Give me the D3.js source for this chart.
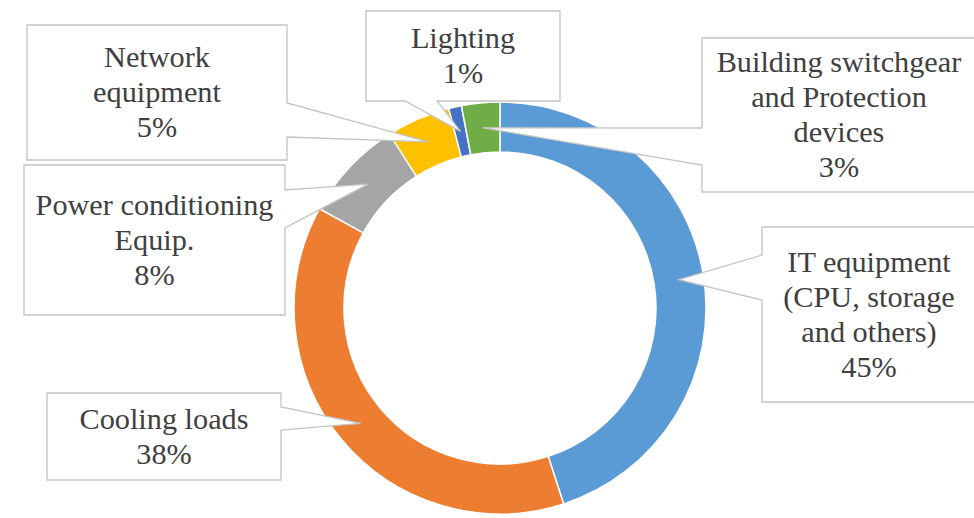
<!DOCTYPE html>
<html>
<head>
<meta charset="utf-8">
<script src="https://cdn.jsdelivr.net/npm/d3@7"></script>
<style>
  html, body { margin: 0; padding: 0; background: #ffffff; }
  svg { display: block; }
</style>
</head>
<body>
<svg id="chart" width="974" height="518"></svg>
<script>
// ---- data ----
const categories = [
  "IT equipment (CPU, storage and others)",
  "Cooling loads",
  "Power conditioning Equip.",
  "Network equipment",
  "Lighting",
  "Building switchgear and Protection devices"
];
const values = [45, 38, 8, 5, 1, 3];
const labelLines = [
  ["IT equipment", "(CPU, storage", "and others)"],
  ["Cooling loads"],
  ["Power conditioning", "Equip."],
  ["Network", "equipment"],
  ["Lighting"],
  ["Building switchgear", "and Protection", "devices"]
];

// ---- styles / layout ----
const colors = ["#5B9BD5", "#ED7D31", "#A5A5A5", "#FFC000", "#4472C4", "#70AD47"];
const cx = 500, cy = 308, R = 206, r = 156;
const lineH = 35;
const refLine = "Power conditioning", refWidth = 238;

// callout boxes: x0,y0,x1,y1, side where the pointer leaves, and pointer base positions
const boxes = [
  { x0: 762, y0: 227, x1: 976, y1: 402, side: "left",   b1: 255, b2: 300 },
  { x0: 47,  y0: 393, x1: 281, y1: 480, side: "right",  b1: 407, b2: 430 },
  { x0: 24,  y0: 165, x1: 285, y1: 315, side: "right",  b1: 190, b2: 228 },
  { x0: 27,  y0: 25,  x1: 287, y1: 160, side: "right",  b1: 103, b2: 137 },
  { x0: 366, y0: 11,  x1: 560, y1: 101, side: "bottom", b1: 405, b2: 437 },
  { x0: 702, y0: 38,  x1: 976, y1: 192, side: "left",   b1: 128, b2: 165 }
];

const svg = d3.select("#chart");

// pick the first installed serif font
function measure(family) {
  const t = svg.append("text").attr("font-size", 40).style("font-family", family)
    .text("Power conditioning Wmilj 0123");
  const w = t.node().getComputedTextLength();
  t.remove();
  return w;
}
const candidates = ["Liberation Serif", "Tinos", "Times New Roman", "Times", "Nimbus Roman",
  "Nimbus Roman No9 L", "FreeSerif", "Noto Serif", "DejaVu Serif", "Georgia", "Cambria"];
let family = "serif";
const wm = measure("monospace"), ws = measure("sans-serif");
for (const c of candidates) {
  const a = measure(`"${c}", monospace`), b = measure(`"${c}", sans-serif`);
  if (Math.abs(a - wm) > 0.5 && Math.abs(b - ws) > 0.5 || Math.abs(a - b) < 0.01 && Math.abs(a - wm) > 0.5) {
    family = `"${c}", serif`;
    break;
  }
}

// fit font size so that the reference line has the measured width
const probe = svg.append("text").attr("font-size", 30).style("font-family", family).text(refLine);
const fontSize = 30 * refWidth / probe.node().getComputedTextLength();
probe.remove();

const g = svg.append("g").attr("transform", `translate(${cx},${cy})`);

const pie = d3.pie().sort(null).value(d => d).startAngle(0).endAngle(2 * Math.PI);
const arcs = pie(values);
const arc = d3.arc().innerRadius(r).outerRadius(R);

g.selectAll("path.slice")
  .data(arcs)
  .join("path")
  .attr("class", "slice")
  .attr("d", arc)
  .attr("fill", (d, i) => colors[i])
  .attr("stroke", "#ffffff")
  .attr("stroke-width", 1.5);

const total = d3.sum(values);

function calloutPath(b, tip) {
  const [tx, ty] = tip;
  if (b.side === "right") {
    return `M${b.x0},${b.y0}H${b.x1}V${b.b1}L${tx},${ty}L${b.x1},${b.b2}V${b.y1}H${b.x0}Z`;
  } else if (b.side === "left") {
    return `M${b.x0},${b.y0}H${b.x1}V${b.y1}H${b.x0}V${b.b2}L${tx},${ty}L${b.x0},${b.b1}Z`;
  } else {
    return `M${b.x0},${b.y0}H${b.x1}V${b.y1}H${b.b2}L${tx},${ty}L${b.b1},${b.y1}H${b.x0}Z`;
  }
}

const labels = svg.append("g");
arcs.forEach((a, i) => {
  const b = boxes[i];
  const c = arc.centroid(a);
  const tip = [cx + c[0], cy + c[1]];
  labels.append("path")
    .attr("d", calloutPath(b, tip))
    .attr("fill", "#ffffff")
    .attr("stroke", "#C4C4C4")
    .attr("stroke-width", 1.3)
    .attr("stroke-linejoin", "miter");

  const lines = labelLines[i].concat([Math.round(values[i] / total * 100) + "%"]);
  const tcx = (b.x0 + b.x1) / 2;
  const tcy = (b.y0 + b.y1) / 2;
  const n = lines.length;
  const t = labels.append("text")
    .attr("text-anchor", "middle")
    .style("font-family", family)
    .attr("font-size", fontSize)
    .attr("fill", "#404040");
  lines.forEach((ln, k) => {
    t.append("tspan")
      .attr("x", tcx)
      .attr("y", tcy + (k - (n - 1) / 2) * lineH + 0.33 * fontSize)
      .text(ln);
  });
});
</script>
</body>
</html>
